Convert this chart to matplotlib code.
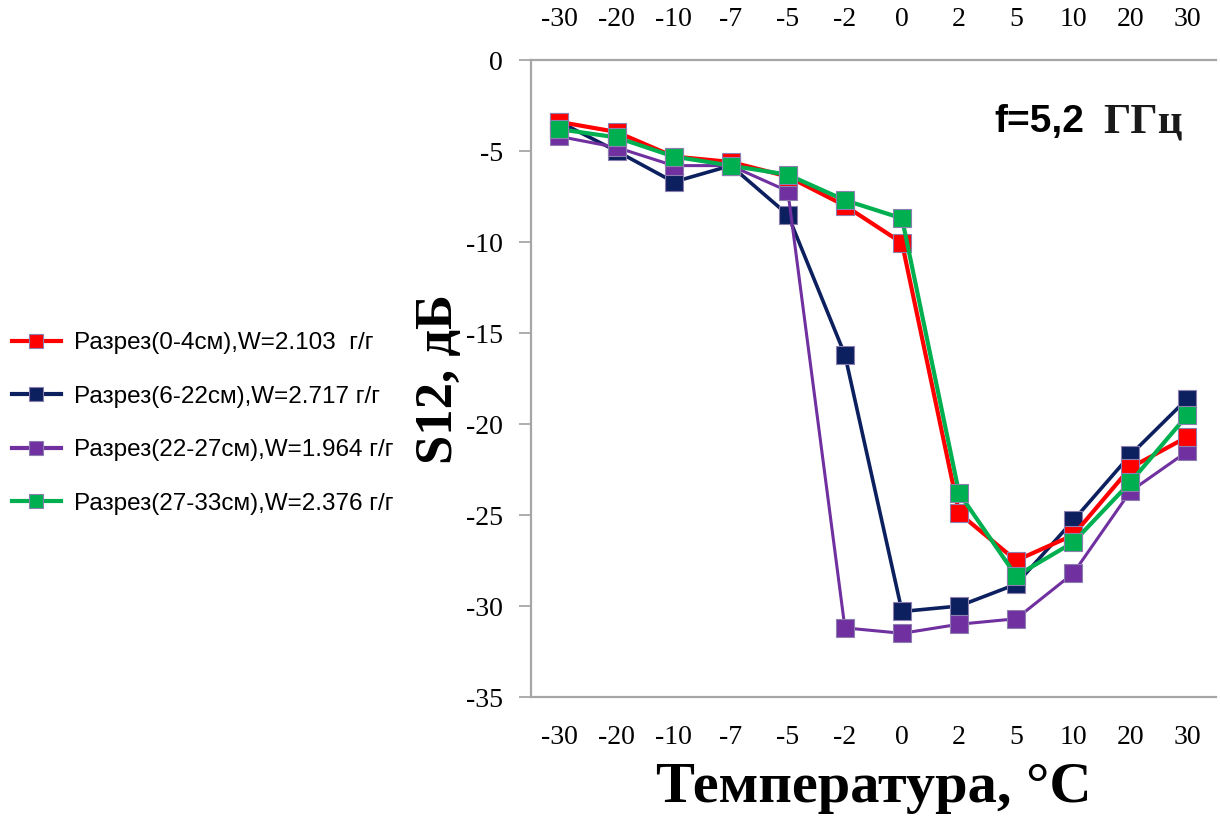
import matplotlib
matplotlib.use("Agg")
import matplotlib.pyplot as plt
from matplotlib.lines import Line2D

serif = "Liberation Serif"
plt.rcParams["axes.unicode_minus"] = False
plt.rcParams["font.family"] = serif

# Temperature categories (°C) and S12 transmission values (dB)
temps = ["-30", "-20", "-10", "-7", "-5", "-2", "0", "2", "5", "10", "20", "30"]

s12_0_4 = [-3.4, -3.95, -5.3, -5.6, -6.4, -8.0, -10.05, -24.9, -27.5, -26.1, -22.4, -20.7]
s12_6_22 = [-3.4, -5.0, -6.7, -5.8, -8.5, -16.2, -30.3, -30.0, -28.8, -25.3, -21.7, -18.6]
s12_22_27 = [-4.2, -4.8, -5.8, -5.8, -7.2, -31.2, -31.5, -31.0, -30.7, -28.2, -23.7, -21.5]
s12_27_33 = [-3.8, -4.25, -5.3, -5.8, -6.3, -7.7, -8.7, -23.8, -28.35, -26.5, -23.2, -19.5]

labels = [
    "Разрез(0-4см),W=2.103  г/г",
    "Разрез(6-22см),W=2.717 г/г",
    "Разрез(22-27см),W=1.964 г/г",
    "Разрез(27-33см),W=2.376 г/г",
]
colors = ["#ff0000", "#0c1f5e", "#7030a0", "#00b050"]
series = [s12_0_4, s12_6_22, s12_22_27, s12_27_33]
widths = [3.0, 2.6, 2.2, 3.0]
zorders = [3, 2, 2.5, 4]

fig = plt.figure(figsize=(12.2, 8.16), dpi=100)
ax = fig.add_axes([0.4352, 0.1458, 0.5615, 0.7806])

xpos = list(range(len(temps)))
for vals, c, lw, z in zip(series, colors, widths, zorders):
    ax.plot(xpos, vals, color=c, lw=lw, marker="s", markersize=13,
            markerfacecolor=c, markeredgecolor="#8c7fb0", markeredgewidth=0.8,
            zorder=z)

ax.set_xlim(-0.5, len(temps) - 0.5)
ax.set_ylim(-35, 0)
ax.set_xticks(xpos)
ax.set_xticklabels(temps)
ax.set_yticks(range(-35, 1, 5))

# Category labels repeated above and below the plot
ax.tick_params(axis="x", length=0, labelsize=20, pad=20, labeltop=True, top=False)
ax.tick_params(axis="y", length=9, width=1.2, color="#a0a0a0", labelsize=20, pad=11)

for side in ("left", "top", "bottom"):
    ax.spines[side].set_color("#a6a6a6")
    ax.spines[side].set_linewidth(1.6)
ax.spines["right"].set_visible(False)

ax.set_xlabel("Температура, °C", fontweight="bold", fontsize=42, labelpad=9)
ax.set_ylabel("S12, дБ", fontweight="bold", fontsize=38, labelpad=2)

# Frequency annotation
ax.text(0.677, 0.902, "f=5,2", transform=ax.transAxes, fontsize=28,
        fontweight="bold", fontfamily="Liberation Sans", ha="left", va="center")
ax.text(0.835, 0.902, "ГГц", transform=ax.transAxes, fontsize=31,
        fontweight="bold", ha="left", va="center", color="#1a1a1a")

handles = [Line2D([0], [0], color=c, lw=3, marker="s", markersize=10,
                  markerfacecolor=c, markeredgecolor="#8c7fb0",
                  markeredgewidth=0.8)
           for c in colors]
fig.legend(handles, labels, loc="upper left", bbox_to_anchor=(0.0098, 0.593),
           frameon=False, handlelength=2.0, handletextpad=0.55,
           borderpad=0, borderaxespad=0,
           labelspacing=1.3, prop={"family": "Liberation Sans", "size": 17.5})

fig.savefig("out.png", dpi=100, facecolor="white")
